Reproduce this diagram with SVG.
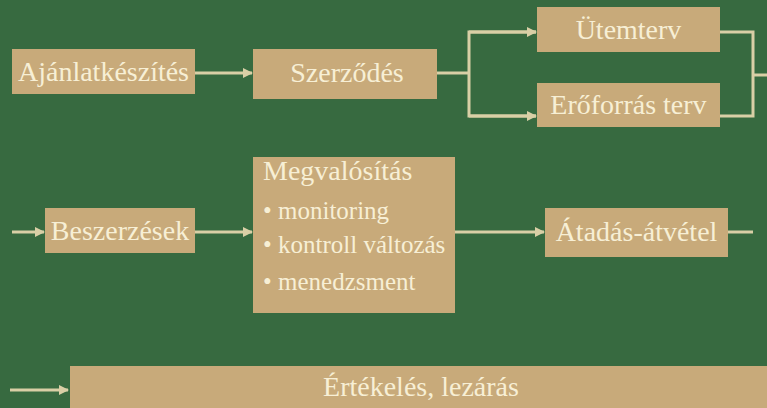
<svg xmlns="http://www.w3.org/2000/svg" width="767" height="408" viewBox="0 0 767 408" font-family="Liberation Serif, Times New Roman, serif">
<style>
.box{fill:#c8aa7a}
.t{font-size:28px;fill:#f7efd5}
.b{font-size:25px}
.c{stroke:#d9cfa6;stroke-width:3;fill:none}
</style>
<defs>
<marker id="ah" markerWidth="10" markerHeight="10" refX="9" refY="5" orient="auto" markerUnits="userSpaceOnUse">
<path d="M0,0 L10,5 L0,10 Z" fill="#d9cfa6"/>
</marker>
</defs>
<rect width="767" height="408" fill="#376a40"/>
<g id="connectors">
<line class="c" x1="195" y1="73" x2="252" y2="73" marker-end="url(#ah)"/>
<polyline class="c" points="437,73 469,73"/>
<polyline class="c" points="536,32 469,32 469,116 536,116"/>
<line class="c" x1="469" y1="32" x2="536" y2="32" marker-end="url(#ah)"/>
<line class="c" x1="469" y1="116" x2="536" y2="116" marker-end="url(#ah)"/>
<polyline class="c" points="720,32 753,32 753,116 720,116"/>
<line class="c" x1="753" y1="75" x2="767" y2="75"/>
<line class="c" x1="12" y1="232" x2="44" y2="232" marker-end="url(#ah)"/>
<line class="c" x1="195" y1="232" x2="252" y2="232" marker-end="url(#ah)"/>
<line class="c" x1="455" y1="232" x2="544" y2="232" marker-end="url(#ah)"/>
<line class="c" x1="728" y1="232" x2="753" y2="232"/>
<line class="c" x1="10" y1="390" x2="68" y2="390" marker-end="url(#ah)"/>
</g>
<g id="ajanlat"><rect class="box" x="12" y="49" width="183" height="45"/><text class="t" x="103.5" y="81" text-anchor="middle">Ajánlatkészítés</text></g>
<g id="szerzodes"><rect class="box" x="253" y="49" width="184" height="50"/><text class="t" x="347" y="82" text-anchor="middle">Szerződés</text></g>
<g id="utemterv"><rect class="box" x="537" y="7" width="183" height="45"/><text class="t" x="628.5" y="39" text-anchor="middle">Ütemterv</text></g>
<g id="eroforras"><rect class="box" x="537" y="83" width="183" height="44"/><text class="t" x="628.5" y="114" text-anchor="middle">Erőforrás terv</text></g>
<g id="beszerzesek"><rect class="box" x="45" y="208" width="150" height="45"/><text class="t" x="120" y="240" text-anchor="middle">Beszerzések</text></g>
<g id="megvalositas"><rect class="box" x="253" y="157" width="202" height="156"/>
<text class="t" x="263" y="180">Megvalósítás</text>
<text class="t b" x="263" y="219">• monitoring</text>
<text class="t b" x="263" y="253">• kontroll változás</text>
<text class="t b" x="263" y="290">• menedzsment</text>
</g>
<g id="atadas"><rect class="box" x="545" y="208" width="183" height="49"/><text class="t" x="636.5" y="241" text-anchor="middle">Átadás-átvétel</text></g>
<g id="ertekeles"><rect class="box" x="70" y="366" width="697" height="42"/><text class="t" x="421" y="396" text-anchor="middle">Értékelés, lezárás</text></g>
</svg>
